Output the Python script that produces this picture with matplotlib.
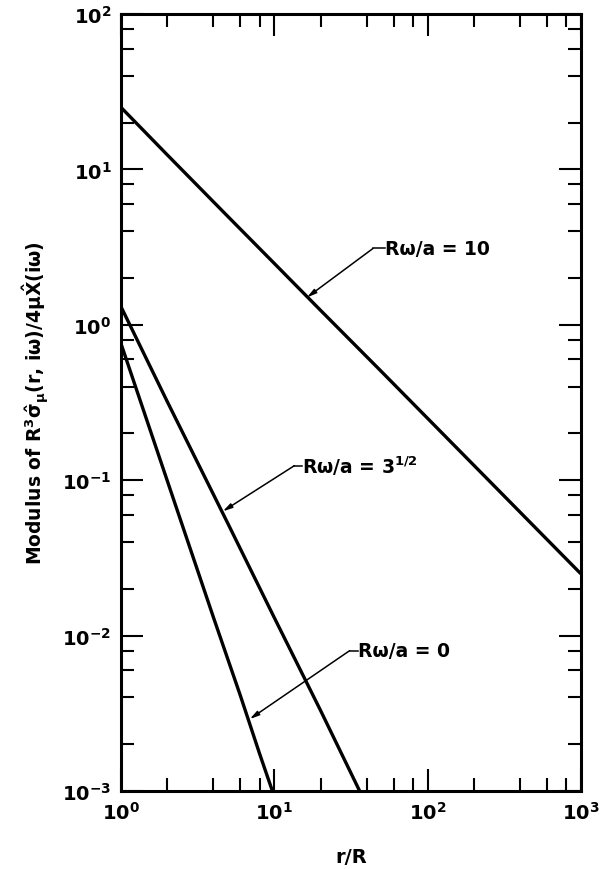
import matplotlib

matplotlib.use("Agg")
import matplotlib.pyplot as plt
from matplotlib.ticker import LogLocator, NullFormatter

plt.rcParams["font.family"] = ["DejaVu Sans"]
plt.rcParams["font.weight"] = "bold"
plt.rcParams["axes.labelweight"] = "bold"
plt.rcParams["mathtext.default"] = "regular"

# values (r/R, modulus)
R_OMEGA_10 = [1, 2, 5, 10, 20, 50, 100, 200, 500, 1000]
MOD_OMEGA_10 = [25, 12.4, 4.95, 2.48, 1.24, 0.50, 0.25, 0.125, 0.050, 0.025]

R_OMEGA_SQRT3 = [1, 2, 5, 10, 20, 36, 40]
MOD_OMEGA_SQRT3 = [1.3, 0.32, 0.052, 0.013, 0.0033, 0.0010, 0.00081]

R_OMEGA_0 = [1, 2, 4, 6, 8, 9.6, 10.5]
MOD_OMEGA_0 = [0.75, 0.099, 0.0131, 0.0041, 0.00174, 0.00103, 0.00079]

# label text, arrow tip (on curve), knee of leader, text start
LABELS = [
    ("R\u03c9/a = 10", (16.3, 1.50), (44, 3.1), (53, 3.1)),
    ("R\u03c9/a = 3$^{1/2}$", (4.6, 0.063), (13.5, 0.124), (15.2, 0.124)),
    ("R\u03c9/a = 0", (6.9, 0.0029), (31, 0.0080), (35, 0.0080)),
]

YLABEL = "Modulus of R$^3\\hat{\\sigma}_\\mu$(r, i\u03c9)/4$\\mu\\hat{X}$(i\u03c9)"


def main() -> None:
    fig = plt.figure(figsize=(6.0, 8.7), dpi=100)
    ax = fig.add_axes([0.202, 0.0897, 0.766, 0.893])

    for xs, ys in [
        (R_OMEGA_10, MOD_OMEGA_10),
        (R_OMEGA_SQRT3, MOD_OMEGA_SQRT3),
        (R_OMEGA_0, MOD_OMEGA_0),
    ]:
        ax.plot(xs, ys, color="black", linewidth=2.4, solid_capstyle="butt")

    for text, tip, knee, start in LABELS:
        ax.annotate(
            "",
            xy=tip,
            xytext=knee,
            arrowprops={
                "arrowstyle": "-|>,head_length=0.55,head_width=0.14",
                "color": "black",
                "lw": 1.1,
                "shrinkA": 0,
                "shrinkB": 0,
            },
        )
        ax.plot([knee[0], start[0]], [knee[1], start[1]], color="black", lw=1.1)
        ax.text(start[0], start[1], text, ha="left", va="center", fontsize=13.5)

    ax.set_xscale("log")
    ax.set_yscale("log")
    ax.set_xlim(1, 1000)
    ax.set_ylim(1e-3, 1e2)

    ax.xaxis.set_minor_locator(LogLocator(base=10, subs=(2, 4, 6, 8)))
    ax.yaxis.set_minor_locator(LogLocator(base=10, subs=(2, 4, 6, 8)))
    ax.xaxis.set_minor_formatter(NullFormatter())
    ax.yaxis.set_minor_formatter(NullFormatter())

    ax.tick_params(which="both", direction="in", top=True, right=True,
                   width=1.5, labelsize=14)
    ax.tick_params(which="major", length=16)
    ax.tick_params(which="minor", length=9.5)
    ax.tick_params(axis="x", which="major", pad=7)
    ax.tick_params(axis="y", which="major", pad=7)
    for spine in ax.spines.values():
        spine.set_linewidth(2.2)

    ax.set_xlabel("r/R", fontsize=14, va="center")
    ax.xaxis.set_label_coords(0.5, -0.084)
    ax.set_ylabel(YLABEL, fontsize=13.5, va="center")
    ax.yaxis.set_label_coords(-0.185, 0.5)

    fig.savefig("out.png", dpi=100)


if __name__ == "__main__":
    main()
